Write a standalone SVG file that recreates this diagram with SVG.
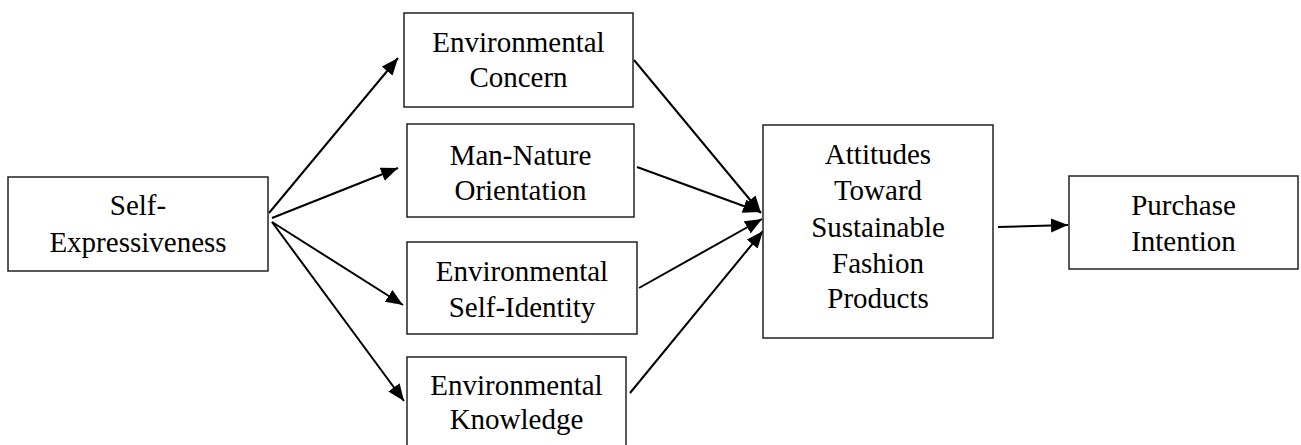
<svg xmlns="http://www.w3.org/2000/svg" width="1301" height="445" viewBox="0 0 1301 445">
<defs>
<style>
.box{fill:#fff;stroke:#222;stroke-width:1.5}
.t{font-family:"Liberation Serif","Times New Roman",serif;font-size:29px;fill:#000;text-anchor:middle}
.c{stroke:#000;stroke-width:2;fill:none;marker-end:url(#ah)}
</style>
<marker id="ah" markerUnits="userSpaceOnUse" markerWidth="18" markerHeight="15" refX="17" refY="7" orient="auto">
<path d="M0,0 L17,7 L0,14 Z" fill="#000"/>
</marker>
</defs>
<rect width="1301" height="445" fill="#fff"/>
<g id="connectors">
<line class="c" x1="269" y1="213" x2="398" y2="58"/>
<line class="c" x1="272" y1="218" x2="398" y2="168"/>
<line class="c" x1="272" y1="222" x2="403" y2="305"/>
<line class="c" x1="272" y1="222" x2="404" y2="401"/>
<line class="c" x1="634" y1="60" x2="761" y2="213"/>
<line class="c" x1="637" y1="167" x2="760" y2="212"/>
<line class="c" x1="639" y1="288" x2="762" y2="219"/>
<line class="c" x1="630" y1="393" x2="763" y2="231"/>
<line class="c" x1="998" y1="227" x2="1068" y2="225"/>
</g>
<g id="self-expressiveness">
<rect class="box" x="8" y="177" width="260" height="94"/>
<text class="t" x="138" y="215">Self-</text>
<text class="t" x="138" y="252">Expressiveness</text>
</g>
<g id="environmental-concern">
<rect class="box" x="404" y="13" width="229" height="94"/>
<text class="t" x="518.5" y="52">Environmental</text>
<text class="t" x="518.5" y="87">Concern</text>
</g>
<g id="man-nature">
<rect class="box" x="407" y="124" width="227" height="93"/>
<text class="t" x="520.5" y="165">Man-Nature</text>
<text class="t" x="520.5" y="200">Orientation</text>
</g>
<g id="environmental-self-identity">
<rect class="box" x="407" y="242" width="230" height="92"/>
<text class="t" x="522" y="281">Environmental</text>
<text class="t" x="522" y="317">Self-Identity</text>
</g>
<g id="environmental-knowledge">
<rect class="box" x="407" y="357" width="219" height="100"/>
<text class="t" x="516.5" y="395">Environmental</text>
<text class="t" x="516.5" y="429">Knowledge</text>
</g>
<g id="attitudes">
<rect class="box" x="763" y="125" width="230" height="213"/>
<text class="t" x="878" y="164">Attitudes</text>
<text class="t" x="878" y="200">Toward</text>
<text class="t" x="878" y="237">Sustainable</text>
<text class="t" x="878" y="273">Fashion</text>
<text class="t" x="878" y="308">Products</text>
</g>
<g id="purchase-intention">
<rect class="box" x="1069" y="176" width="229" height="93"/>
<text class="t" x="1183.5" y="215">Purchase</text>
<text class="t" x="1183.5" y="251">Intention</text>
</g>
</svg>
